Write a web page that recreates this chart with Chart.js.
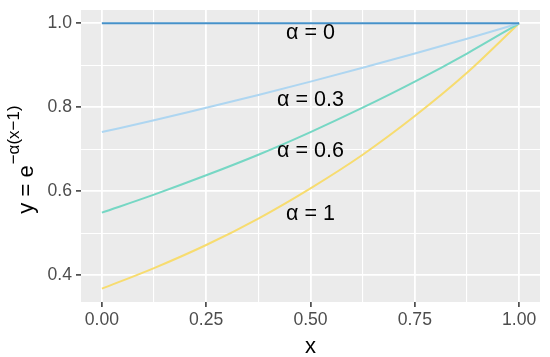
<!DOCTYPE html>
<html>
<head>
<meta charset="utf-8">
<script src="https://cdn.jsdelivr.net/npm/chart.js@4"></script>
<style>
  html, body { margin: 0; padding: 0; background: #fff; }
  #wrap { width: 550px; height: 357px; position: relative; }
</style>
</head>
<body>
<div id="wrap"><canvas id="chart"></canvas></div>
<script>
const xValues = [0, 0.125, 0.25, 0.375, 0.5, 0.625, 0.75, 0.875, 1];

// y values per alpha
const alphaNames = ['0', '0.3', '0.6', '1'];
const yAlpha0 = [1, 1, 1, 1, 1, 1, 1, 1, 1];
const yAlpha03 = [0.741, 0.769, 0.799, 0.829, 0.861, 0.894, 0.928, 0.963, 1];
const yAlpha06 = [0.549, 0.592, 0.638, 0.687, 0.741, 0.799, 0.861, 0.928, 1];
const yAlpha1 = [0.368, 0.417, 0.472, 0.535, 0.607, 0.687, 0.779, 0.882, 1];

// axis breaks
const xMajor = [0, 0.25, 0.5, 0.75, 1];
const xMinor = [0.125, 0.375, 0.625, 0.875];
const yMajor = [0.4, 0.6, 0.8, 1.0];
const yMinor = [0.5, 0.7, 0.9];

// text labels inside the panel (data coords)
const labelX = [0.5, 0.5, 0.5, 0.5];
const labelY = [0.976, 0.818, 0.695, 0.545];

const colors = ['#4591C9', '#AED6F1', '#76D7C4', '#F7DC6F'];
const FONT = '"Liberation Sans", Arial, sans-serif';

const series = [yAlpha0, yAlpha03, yAlpha06, yAlpha1];
const datasets = series.map((ys, i) => ({
    label: 'α = ' + alphaNames[i],
    data: xValues.map((x, j) => ({ x: x, y: ys[j] })),
    borderColor: colors[i],
    borderWidth: 2,
    pointRadius: 0,
    fill: false,
    cubicInterpolationMode: 'monotone'
}));

const isMajor = (v, list) => list.some(m => Math.abs(m - v) < 1e-6);

// grey panel + titles + in-panel labels
const ggPlugin = {
    id: 'gg',
    beforeDraw(chart) {
        const a = chart.chartArea;
        const ctx = chart.ctx;
        ctx.save();
        ctx.fillStyle = '#EBEBEB';
        ctx.fillRect(a.left, a.top, a.right - a.left, a.bottom - a.top);
        ctx.restore();
    },
    afterDatasetsDraw(chart) {
        const ctx = chart.ctx;
        const xs = chart.scales.x, ys = chart.scales.y;
        ctx.save();
        ctx.fillStyle = '#000';
        ctx.font = '21.5px ' + FONT;
        ctx.textAlign = 'center';
        ctx.textBaseline = 'middle';
        alphaNames.forEach((n, i) => {
            ctx.fillText('α = ' + n, xs.getPixelForValue(labelX[i]), ys.getPixelForValue(labelY[i]));
        });
        ctx.restore();
    },
    afterDraw(chart) {
        const ctx = chart.ctx;
        const a = chart.chartArea;
        ctx.save();
        ctx.fillStyle = '#000';
        // x title
        ctx.font = '22px ' + FONT;
        ctx.textAlign = 'center';
        ctx.textBaseline = 'alphabetic';
        ctx.fillText('x', (a.left + a.right) / 2, 353);
        // y title with superscript
        const main = 'y = e';
        const sup = '−α(x−1)';
        ctx.font = '22px ' + FONT;
        const w1 = ctx.measureText(main).width;
        ctx.font = '17px ' + FONT;
        const w2 = ctx.measureText(sup).width;
        const cy = 160;
        ctx.translate(33, cy);
        ctx.rotate(-Math.PI / 2);
        ctx.textAlign = 'left';
        const start = -(w1 + w2) / 2;
        ctx.font = '22px ' + FONT;
        ctx.fillText(main, start, 0);
        ctx.font = '17px ' + FONT;
        ctx.fillText(sup, start + w1 + 1, -14);
        ctx.restore();
    }
};

new Chart(document.getElementById('chart'), {
    type: 'line',
    data: { datasets: datasets },
    options: {
        responsive: true,
        maintainAspectRatio: false,
        animation: false,
        layout: { padding: { top: 10, right: 10, left: 0, bottom: 0 } },
        plugins: { legend: { display: false }, tooltip: { enabled: false } },
        scales: {
            x: {
                type: 'linear',
                min: -0.05,
                max: 1.05,
                afterBuildTicks: s => { s.ticks = xMajor.concat(xMinor).sort((p, q) => p - q).map(v => ({ value: v })); },
                afterFit: s => { s.height = 55; s.paddingLeft = 0; s.paddingRight = 0; },
                border: { display: false },
                grid: {
                    color: '#FFFFFF',
                    lineWidth: c => isMajor(c.tick.value, xMajor) ? 1.8 : 1.1,
                    tickColor: c => isMajor(c.tick.value, xMajor) ? '#333333' : 'rgba(0,0,0,0)',
                    tickLength: 5,
                    tickWidth: 1.5
                },
                ticks: {
                    autoSkip: false,
                    maxRotation: 0,
                    padding: 3,
                    color: '#4D4D4D',
                    font: { family: FONT, size: 17.6 },
                    callback: v => isMajor(v, xMajor) ? v.toFixed(2) : ''
                }
            },
            y: {
                type: 'linear',
                min: 0.3363,
                max: 1.0316,
                afterBuildTicks: s => { s.ticks = yMajor.concat(yMinor).sort((p, q) => p - q).map(v => ({ value: v })); },
                afterFit: s => { s.width = 81; s.paddingTop = 0; s.paddingBottom = 0; },
                border: { display: false },
                grid: {
                    color: '#FFFFFF',
                    lineWidth: c => isMajor(c.tick.value, yMajor) ? 1.8 : 1.1,
                    tickColor: c => isMajor(c.tick.value, yMajor) ? '#333333' : 'rgba(0,0,0,0)',
                    tickLength: 5,
                    tickWidth: 1.5
                },
                ticks: {
                    autoSkip: false,
                    padding: 4,
                    color: '#4D4D4D',
                    font: { family: FONT, size: 17.6 },
                    callback: v => isMajor(v, yMajor) ? v.toFixed(1) : ''
                }
            }
        }
    },
    plugins: [ggPlugin]
});
</script>
</body>
</html>
